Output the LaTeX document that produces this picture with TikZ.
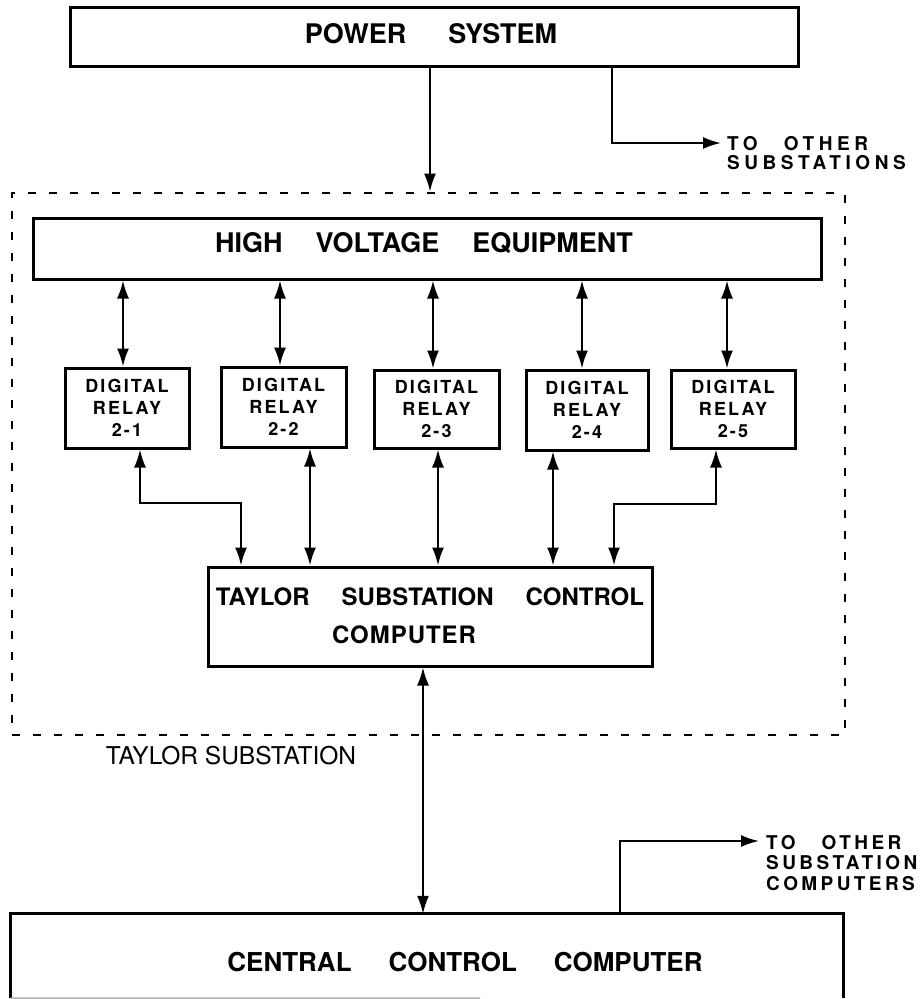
\documentclass[tikz,border=0pt]{standalone}
\usepackage{fontspec}
\setmainfont{TeX Gyre Heros}
\newfontfamily\lsfont[LetterSpace=12]{TeX Gyre Heros}
\newfontfamily\lblfont[LetterSpace=18]{TeX Gyre Heros}
\newfontfamily\lblwfont[LetterSpace=24]{TeX Gyre Heros}
\newfontfamily\cmpfont[LetterSpace=4]{TeX Gyre Heros}
\usetikzlibrary{arrows.meta}
\begin{document}
\begin{tikzpicture}[x=1pt,y=-1pt,
  box/.style={draw, line width=3pt, rectangle, inner sep=0pt},
  subframe/.style={draw, line width=2.8pt, dash pattern=on 8pt off 13pt, rectangle, inner sep=0pt},
  conn/.style={line width=2pt},
  tip/.style={-{Latex[length=18pt,width=12pt]}},
  dbl/.style={{Latex[length=18pt,width=12pt]}-{Latex[length=18pt,width=12pt]}},
  bigtxt/.style={inner sep=0pt, font=\bfseries\fontsize{27}{30}\selectfont},
  midtxt/.style={inner sep=0pt, font=\bfseries\fontsize{24}{28}\selectfont},
  cctxt/.style={inner sep=0pt, font=\bfseries\fontsize{26}{30}\selectfont},
  relay/.style={box, minimum height=80pt, align=center, font=\lsfont\bfseries\fontsize{18}{22}\selectfont},
  lbl/.style={inner sep=0pt, anchor=north west, align=left, font=\lblfont\bfseries\fontsize{19}{20.5}\selectfont},
  lblw/.style={lbl, font=\lblwfont\bfseries\fontsize{19}{19.5}\selectfont},
  plaintxt/.style={inner sep=0pt, font=\fontsize{24.5}{27}\selectfont}
]
\useasboundingbox (0,0) rectangle (924,999);

% Power system
\node[box, minimum width=728pt, minimum height=59pt] (ps) at (434,36.5) {};
\node[bigtxt] (pstext) at (431,34) {POWER\hspace{42pt}SYSTEM};

% Substation frame
\node[subframe, minimum width=833pt, minimum height=542pt] (sub) at (428.5,464) {};
\node[plaintxt] (subtext) at (231,756) {TAYLOR SUBSTATION};

% High voltage equipment
\node[box, minimum width=788pt, minimum height=61pt] (hv) at (427,248.5) {};
\node[bigtxt] (hvtext) at (424,243) {HIGH\hspace{33pt}VOLTAGE\hspace{33pt}EQUIPMENT};

% Relays
\node[relay, minimum width=124pt] (r1) at (127,408) {DIGITAL\\RELAY\\2-1};
\node[relay, minimum width=125pt] (r2) at (283.5,407) {DIGITAL\\RELAY\\2-2};
\node[relay, minimum width=125pt, minimum height=78pt] (r3) at (436.5,409) {DIGITAL\\RELAY\\2-3};
\node[relay, minimum width=122pt] (r4) at (587,410) {DIGITAL\\RELAY\\2-4};
\node[relay, minimum width=124pt, minimum height=78pt] (r5) at (733,409) {DIGITAL\\RELAY\\2-5};

% Taylor substation control computer
\node[box, minimum width=444pt, minimum height=99pt] (tscc) at (430,616.5) {};
\node[midtxt] (tscc1) at (430,597) {TAYLOR\hspace{32pt}SUBSTATION\hspace{32pt}CONTROL};
\node[midtxt, font=\cmpfont\bfseries\fontsize{24}{28}\selectfont] (tscc2) at (404,635) {COMPUTER};

% Central control computer (bottom edge cut by the page)
\node[inner sep=0pt, minimum width=832pt, minimum height=84pt] (cc) at (427,956) {};
\draw[line width=3pt] (cc.south west) -- (cc.north west) -- (cc.north east) -- (cc.south east);
\draw[black!30, line width=1.5pt] (cc.south west) -- (480,998);
\node[cctxt] (cctext) at (465,962) {CENTRAL\hspace{37pt}CONTROL\hspace{37pt}COMPUTER};

% Labels to other substations
\node[lblw] (oth1) at (727,136) {TO\hspace*{26pt}OTHER\\SUBSTATIONS};
\node[lbl] (oth2) at (766,835) {TO\hspace*{26pt}OTHER\\SUBSTATION\\COMPUTERS};

% Connectors
\coordinate (m1) at (430,0);
\draw[conn,tip] (m1 |- ps.south) -- (m1 |- sub.north);

\coordinate (br1) at (612,143);
\coordinate (br1e) at (721,143);
\draw[conn,tip] (br1 |- ps.south) -- (br1) -- (br1e);

\coordinate (u1) at (123,0);
\coordinate (u2) at (280,0);
\coordinate (u3) at (433,0);
\coordinate (u4) at (582,0);
\coordinate (u5) at (727,0);
\draw[conn,dbl] (u1 |- hv.south) -- (u1 |- r1.north);
\draw[conn,dbl] (u2 |- hv.south) -- (u2 |- r2.north);
\draw[conn,dbl] (u3 |- hv.south) -- (u3 |- r3.north);
\draw[conn,dbl] (u4 |- hv.south) -- (u4 |- r4.north);
\draw[conn,dbl] (u5 |- hv.south) -- (u5 |- r5.north);

\coordinate (b1) at (140,503);
\coordinate (c1) at (241,503);
\draw[conn,dbl] (b1 |- r1.south) -- (b1) -- (c1) -- (c1 |- tscc.north);
\coordinate (l2) at (310,0);
\coordinate (l3) at (438,0);
\coordinate (l4) at (553,0);
\draw[conn,dbl] (l2 |- r2.south) -- (l2 |- tscc.north);
\draw[conn,dbl] (l3 |- r3.south) -- (l3 |- tscc.north);
\draw[conn,dbl] (l4 |- r4.south) -- (l4 |- tscc.north);
\coordinate (b5) at (716,504);
\coordinate (c5) at (614,504);
\draw[conn,dbl] (b5 |- r5.south) -- (b5) -- (c5) -- (c5 |- tscc.north);

\coordinate (v) at (423,0);
\draw[conn,dbl] (v |- tscc.south) -- (v |- cc.north);

\coordinate (br2) at (620,841);
\coordinate (br2e) at (759,841);
\draw[conn,tip] (br2 |- cc.north) -- (br2) -- (br2e);
\end{tikzpicture}
\end{document}
